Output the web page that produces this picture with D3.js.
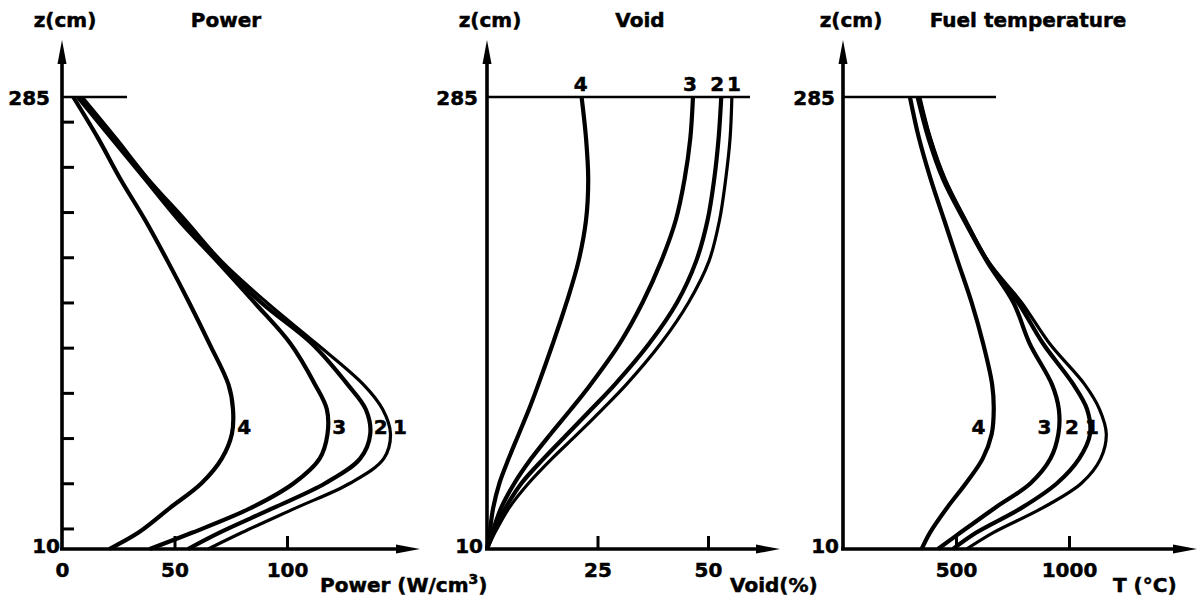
<!DOCTYPE html>
<html>
<head>
<meta charset="utf-8">
<script src="https://d3js.org/d3.v7.min.js"></script>
<style>
  body { margin: 0; background: #fff; }
  text { font-family: "DejaVu Sans", sans-serif; font-weight: bold; fill: #000; stroke: #000; stroke-width: 0.5px; }
</style>
</head>
<body>
<svg id="vis"></svg>
<script>
    // axial levels (cm) at which the curves were read
    const zLevels = [285, 260, 235, 210, 185, 160, 135, 110, 95, 80, 65, 50, 35, 20, 10]
    const zTicks = [22.5, 50, 77.5, 105, 132.5, 160, 187.5, 215, 242.5, 270]
    const zLabels = [285, 10]
    const caseNames = ['1', '2', '3', '4']

    // Power (W/cm3)
    const powerCase1 = [9, 24, 38.5, 55, 71, 91, 113, 134, 142.5, 146, 143, 128, 104, 80, 65]
    const powerCase2 = [8, 23, 37.5, 54, 70, 88.5, 111, 127, 135, 137, 132.5, 117, 94, 70, 56]
    const powerCase3 = [7, 22, 37, 52, 69, 85.5, 101.5, 112.5, 117.7, 118, 114.5, 103, 84, 58, 39]
    const powerCase4 = [5, 16, 26, 37, 47, 56.5, 65.5, 74, 76, 75.5, 71, 62, 48, 34, 21]
    const powerTicks = [0, 50, 100]

    // Void (%)
    const voidCase1 = [55.4, 55.0, 54.0, 52.6, 50.2, 45.6, 39.3, 31.5, 26.1, 20.5, 14.7, 9.4, 5.0, 1.8, 0]
    const voidCase2 = [53.0, 52.4, 51.4, 49.9, 47.3, 43.0, 36.7, 28.9, 23.6, 18.2, 12.8, 7.8, 4.2, 1.5, 0]
    const voidCase3 = [46.6, 46.0, 44.7, 42.7, 39.4, 35.2, 30.0, 23.4, 19.0, 14.4, 10.0, 6.2, 3.2, 1.2, 0]
    const voidCase4 = [21.4, 22.4, 22.9, 22.4, 20.7, 18.0, 14.9, 11.6, 9.5, 7.2, 4.9, 2.8, 1.4, 0.6, 0]
    const voidTicks = [25, 50]

    // Fuel temperature (°C)
    const fuelCase1 = [340, 387, 452, 543, 643, 790, 914, 1070, 1135, 1165, 1140, 1055, 883, 665, 547]
    const fuelCase2 = [335, 383, 448, 540, 640, 775, 885, 1020, 1080, 1093, 1045, 947, 790, 590, 487]
    const fuelCase3 = [330, 378, 443, 536, 637, 754, 826, 925, 955, 953, 918, 830, 672, 520, 420]
    const fuelCase4 = [296, 336, 388, 448, 508, 569, 620, 660, 667, 658, 618, 544, 460, 385, 348]
    const fuelTicks = [500, 1000]

    let svg = d3.select('#vis')
        .attr('width', 1199)
        .attr('height', 606)

    const yBottom = 549
    const y = d3.scaleLinear().domain([10, 285]).range([yBottom, 97])

    const panels = [
        {
            series: [powerCase1, powerCase2, powerCase3, powerCase4],
            domain: [0, 100], range: [62, 287],
            ticks: powerTicks, axisEnd: 420, topEnd: 127,
            title: 'Power', titleX: 226, zX: 65,
            unit: 'Power (W/cm', sup: '3', unitTail: ')', unitX: 320,
            labelSide: 'right', labelShift: [0, 0, 0, 0],
            zTicks: true, label285: 12, label10: 2
        },
        {
            series: [voidCase1, voidCase2, voidCase3, voidCase4],
            domain: [0, 50], range: [487, 708],
            ticks: voidTicks, axisEnd: 780, topEnd: 750,
            title: 'Void', titleX: 640, zX: 490,
            unit: 'Void(%)', unitX: 730,
            labelSide: 'top', labelShift: [3, -3, -2, 0],
            zTicks: false, label285: 9, label10: 4
        },
        {
            series: [fuelCase1, fuelCase2, fuelCase3, fuelCase4],
            domain: [0, 1000], range: [843, 1069],
            ticks: fuelTicks, axisEnd: 1197, topEnd: 996,
            title: 'Fuel temperature', titleX: 1028, zX: 851,
            unit: 'T  (°C)', unitX: 1113,
            labelSide: 'left', labelShift: [2, -3, 0, 0],
            zTicks: false, label285: 8, label10: 4
        }
    ]

    panels.forEach(function (p) {
        let x = d3.scaleLinear().domain(p.domain).range(p.range)
        let ax = x(0)
        let g = svg.append('g')

        // curves
        let line = d3.line()
            .x(function (d) { return x(d[1]) })
            .y(function (d) { return y(d[0]) })
            .curve(d3.curveCatmullRom.alpha(0.5))

        g.selectAll('path.curve')
            .data(p.series)
            .enter().append('path')
            .attr('class', 'curve')
            .attr('fill', 'none')
            .attr('stroke', 'black')
            .attr('stroke-width', function (d, i) { return i == 0 ? 3.2 : 4.2 })
            .attr('stroke-linejoin', 'round')
            .attr('d', function (d) {
                return line(d.map(function (v, i) { return [zLevels[i], v] }))
            })

        // y axis with arrow
        g.append('line')
            .attr('x1', ax).attr('x2', ax)
            .attr('y1', yBottom + 1).attr('y2', 55)
            .attr('stroke', 'black').attr('stroke-width', 3.6)
        g.append('path')
            .attr('d', 'M' + ax + ',40 L' + (ax - 4.5) + ',64 L' + (ax + 4.5) + ',64 Z')
            .attr('fill', 'black')

        // x axis with arrow
        g.append('line')
            .attr('x1', ax - 2).attr('x2', p.axisEnd - 15)
            .attr('y1', yBottom).attr('y2', yBottom)
            .attr('stroke', 'black').attr('stroke-width', 3.4)
        g.append('path')
            .attr('d', 'M' + p.axisEnd + ',' + yBottom + ' L' + (p.axisEnd - 24) + ',' + (yBottom - 4.5) +
                ' L' + (p.axisEnd - 24) + ',' + (yBottom + 4.5) + ' Z')
            .attr('fill', 'black')

        // top line at z = 285
        g.append('line')
            .attr('x1', ax).attr('x2', p.topEnd)
            .attr('y1', y(285)).attr('y2', y(285))
            .attr('stroke', 'black').attr('stroke-width', 2.6)

        // x ticks and labels
        let xAxis = g.append('g')
            .attr('transform', 'translate(0,' + yBottom + ')')
            .call(d3.axisBottom(x).tickValues(p.ticks).tickSize(-13).tickPadding(14).tickFormat(d3.format('d')))
        xAxis.select('.domain').remove()
        xAxis.selectAll('.tick line').attr('stroke', 'black').attr('stroke-width', 3)
            .attr('opacity', function (d) { return d == 0 ? 0 : 1 })
        xAxis.selectAll('.tick text')
            .attr('fill', 'black')
            .style('font-size', '20px')
            .style('font-family', '"DejaVu Sans", sans-serif')
            .style('font-weight', 'bold')

        // z ticks (power panel only)
        if (p.zTicks) {
            let yAxis = g.append('g')
                .attr('transform', 'translate(' + ax + ',0)')
                .call(d3.axisRight(y).tickValues(zTicks).tickSize(12).tickFormat(''))
            yAxis.select('.domain').remove()
            yAxis.selectAll('.tick line').attr('stroke', 'black').attr('stroke-width', 3)
        }

        // z labels 285 and 10
        g.selectAll('text.zl')
            .data(zLabels)
            .enter().append('text')
            .attr('class', 'zl')
            .attr('x', function (d) { return ax - (d == 285 ? p.label285 : p.label10) })
            .attr('y', function (d) { return y(d) + (d == 285 ? 8 : 4) })
            .attr('text-anchor', 'end')
            .style('font-size', '20px')
            .text(function (d) { return d })

        // headings
        g.append('text')
            .attr('x', p.zX).attr('y', 27)
            .attr('text-anchor', 'middle')
            .style('font-size', '20px')
            .text('z(cm)')
        g.append('text')
            .attr('x', p.titleX).attr('y', 27)
            .attr('text-anchor', 'middle')
            .style('font-size', '20px')
            .text(p.title)

        // unit label
        let unit = g.append('text')
            .attr('x', p.unitX).attr('y', 592)
            .style('font-size', '20px')
            .text(p.unit)
        if (p.sup) {
            unit.append('tspan').attr('dy', -8).style('font-size', '14px').text(p.sup)
            unit.append('tspan').attr('dy', 8).text(p.unitTail)
        }

        // case numbers
        g.selectAll('text.case')
            .data(p.series)
            .enter().append('text')
            .attr('class', 'case')
            .style('font-size', '20px')
            .attr('text-anchor', function () {
                return p.labelSide == 'right' ? 'start' : (p.labelSide == 'left' ? 'end' : 'middle')
            })
            .attr('x', function (d, i) {
                if (p.labelSide == 'top') return x(d[0]) - 1 + p.labelShift[i]
                let at = d3.scaleLinear().domain(zLevels).range(d)
                return (p.labelSide == 'right' ? x(at(85)) + 5 : x(at(85)) - 7) + p.labelShift[i]
            })
            .attr('y', function () {
                return p.labelSide == 'top' ? y(285) - 6 : y(85) + 8
            })
            .text(function (d, i) { return caseNames[i] })
    })
</script>
</body>
</html>
